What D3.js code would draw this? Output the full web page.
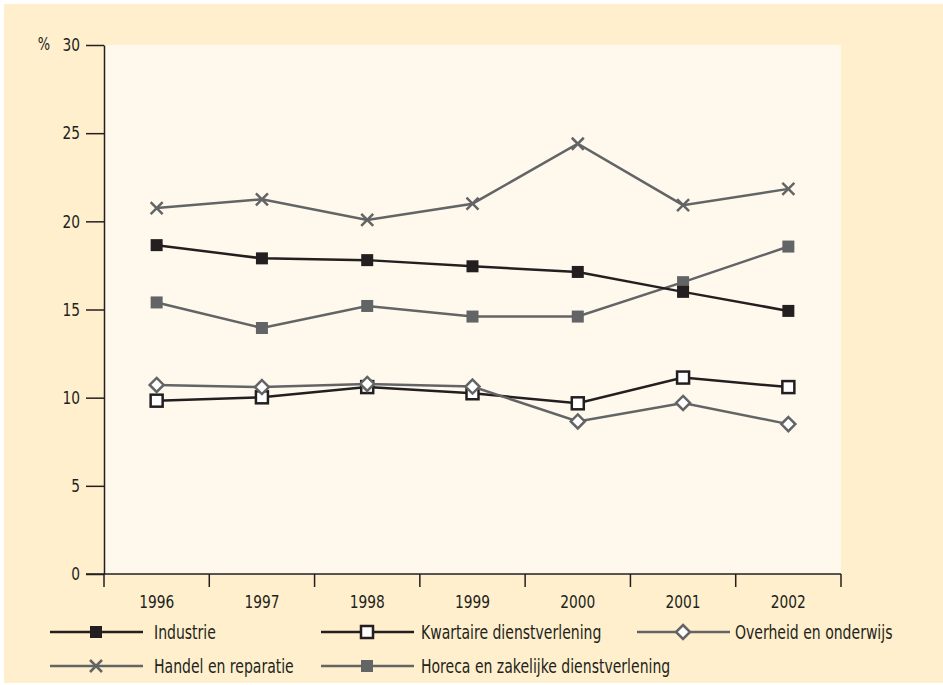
<!DOCTYPE html>
<html>
<head>
<meta charset="utf-8">
<script src="https://cdn.jsdelivr.net/npm/d3@7"></script>
<style>
  body { margin: 0; background: #fff; }
  svg text { font-family: "DejaVu Sans Condensed", "Liberation Sans Narrow", "Roboto", sans-serif; fill: #231f20; }
</style>
</head>
<body>
<div class="chart"></div>
<script>
var width = 943;
var height = 685;

// data
var years = ["1996", "1997", "1998", "1999", "2000", "2001", "2002"];
var industrie = [18.65, 17.9, 17.8, 17.45, 17.13, 16.0, 14.92];
var kwartaire = [9.83, 10.02, 10.6, 10.25, 9.68, 11.14, 10.6];
var overheid = [10.72, 10.6, 10.78, 10.63, 8.65, 9.7, 8.5];
var handel = [20.75, 21.25, 20.08, 21.0, 24.4, 20.92, 21.84];
var horeca = [15.4, 13.95, 15.2, 14.6, 14.6, 16.55, 18.57];
var yTicks = [0, 5, 10, 15, 20, 25, 30];

var dark = "#231f20", grey = "#636466";

var series = [
  {name: "Industrie", values: industrie, color: dark, marker: "square", fill: dark},
  {name: "Kwartaire dienstverlening", values: kwartaire, color: dark, marker: "square", fill: "#fff"},
  {name: "Overheid en onderwijs", values: overheid, color: grey, marker: "diamond", fill: "#fff"},
  {name: "Handel en reparatie", values: handel, color: grey, marker: "cross", fill: "none"},
  {name: "Horeca en zakelijke dienstverlening", values: horeca, color: grey, marker: "square", fill: grey}
];

// squeeze the text a bit, the original uses a condensed face
function condense(sel, k) {
  sel.each(function() {
    var w = this.getComputedTextLength();
    this.setAttribute("textLength", w * k);
    this.setAttribute("lengthAdjust", "spacingAndGlyphs");
  });
}

var svg = d3.select(".chart").append("svg")
    .attr("width", width)
    .attr("height", height);

// outer panel
svg.append("rect")
    .attr("x", 4).attr("y", 4)
    .attr("width", width - 4).attr("height", 679)
    .attr("fill", "#ffefcc");

var margin = {left: 104, top: 45, right: 841, bottom: 574};

var x = d3.scaleBand()
    .domain(years)
    .range([margin.left, margin.right]);

var y = d3.scaleLinear()
    .domain([0, 30])
    .range([margin.bottom, margin.top]);

svg.append("rect")
    .attr("x", margin.left).attr("y", margin.top)
    .attr("width", margin.right - margin.left)
    .attr("height", margin.bottom - margin.top)
    .attr("fill", "#fef9ec");

// y axis
var yAxis = svg.append("g")
    .attr("transform", "translate(" + margin.left + ",0)")
    .call(d3.axisLeft(y).tickValues(yTicks).tickSize(18).tickPadding(6).tickSizeOuter(0));
yAxis.attr("font-family", null).attr("font-size", null);
yAxis.select(".domain").attr("stroke", dark).attr("stroke-width", 1.5);
yAxis.selectAll(".tick line").attr("stroke", dark).attr("stroke-width", 1.5);
yAxis.selectAll("text").attr("font-size", 18).attr("fill", dark).call(condense, 0.85);

svg.append("text")
    .attr("x", 44).attr("y", y(30))
    .attr("dy", "0.32em")
    .attr("text-anchor", "middle")
    .attr("font-size", 17)
    .text("%")
    .call(condense, 0.85);

// x axis: ticks at band edges
var xg = svg.append("g")
    .attr("transform", "translate(0," + margin.bottom + ")");
xg.append("line")
    .attr("x1", margin.left - 18).attr("x2", margin.right)
    .attr("stroke", dark).attr("stroke-width", 1.5);
var edges = years.map(function(d) { return x(d); }).concat([margin.right]);
xg.selectAll(".edge")
    .data(edges)
  .enter().append("line")
    .attr("class", "edge")
    .attr("x1", function(d) { return d; })
    .attr("x2", function(d) { return d; })
    .attr("y1", 0).attr("y2", 13)
    .attr("stroke", dark).attr("stroke-width", 1.5);
xg.selectAll(".year")
    .data(years)
  .enter().append("text")
    .attr("class", "year")
    .attr("x", function(d) { return x(d) + x.bandwidth() / 2; })
    .attr("y", 34)
    .attr("text-anchor", "middle")
    .attr("font-size", 18)
    .text(function(d) { return d; })
    .call(condense, 0.85);

function drawMarker(g, type, color, fill) {
  if (type === "square") {
    g.append("rect")
        .attr("x", -6).attr("y", -6)
        .attr("width", 12).attr("height", 12)
        .attr("fill", fill)
        .attr("stroke", color)
        .attr("stroke-width", fill === "#fff" ? 2.5 : 0);
  } else if (type === "diamond") {
    g.append("path")
        .attr("d", "M0,-7L7,0L0,7L-7,0Z")
        .attr("fill", fill)
        .attr("stroke", color)
        .attr("stroke-width", 2.5);
  } else {
    g.append("path")
        .attr("d", "M-6,-6L6,6M-6,6L6,-6")
        .attr("stroke", color)
        .attr("stroke-width", 2.5);
  }
}

var line = d3.line()
    .x(function(d, i) { return x(years[i]) + x.bandwidth() / 2; })
    .y(function(d) { return y(d); });

// draw order: back to front
var order = [4, 3, 0, 1, 2];
order.forEach(function(k) {
  var s = series[k];
  var g = svg.append("g").attr("class", "series");
  g.append("path")
      .attr("d", line(s.values))
      .attr("fill", "none")
      .attr("stroke", s.color)
      .attr("stroke-width", 2.5);
  s.values.forEach(function(v, i) {
    var m = g.append("g")
        .attr("transform", "translate(" + (x(years[i]) + x.bandwidth() / 2) + "," + y(v) + ")");
    drawMarker(m, s.marker, s.color, s.fill);
  });
});

// legend
var legendPos = [
  {x: 50, y: 632, tx: 104}, {x: 321, y: 632, tx: 100}, {x: 637, y: 632, tx: 98},
  {x: 50, y: 666, tx: 104}, {x: 321, y: 666, tx: 100}
];
series.forEach(function(s, i) {
  var p = legendPos[i];
  var g = svg.append("g").attr("transform", "translate(" + p.x + "," + p.y + ")");
  g.append("line")
      .attr("x1", 0).attr("x2", 93)
      .attr("stroke", s.color).attr("stroke-width", 2.5);
  var m = g.append("g").attr("transform", "translate(46,0)");
  drawMarker(m, s.marker, s.color, s.fill);
  g.append("text")
      .attr("x", p.tx).attr("y", 0)
      .attr("dy", "0.36em")
      .attr("font-size", 19)
      .text(s.name)
      .call(condense, 0.82);
});
</script>
</body>
</html>
